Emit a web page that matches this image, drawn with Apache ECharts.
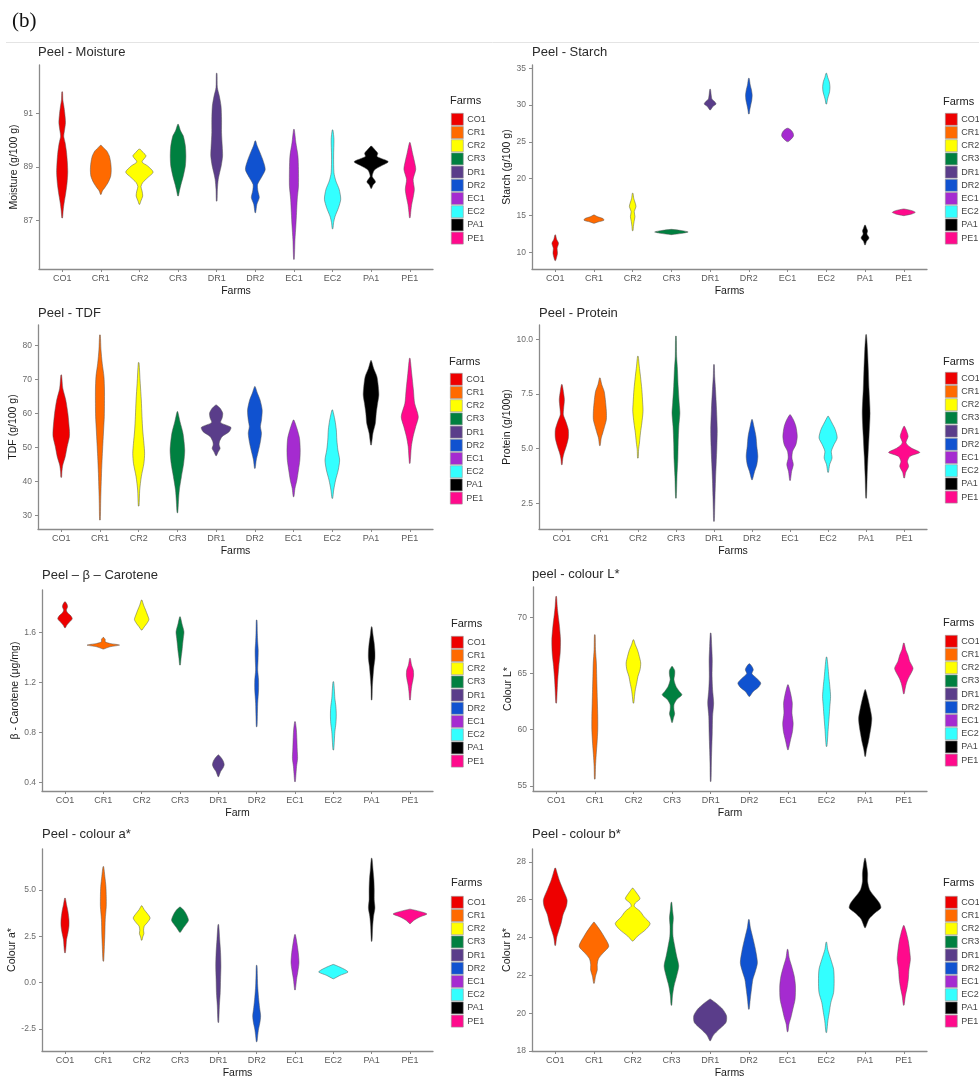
<!DOCTYPE html>
<html><head><meta charset="utf-8">
<script src="https://cdn.jsdelivr.net/npm/echarts@6/dist/echarts.min.js"></script>
<style>html,body{margin:0;padding:0;background:#fff}#c{width:979px;height:1080px}</style>
</head><body><div id="c"></div>
<script>
// ---------- data ----------
const farms = ['CO1','CR1','CR2','CR3','DR1','DR2','EC1','EC2','PA1','PE1'];
const farmColours = ['#EE0000','#FF6A00','#FFFF00','#008040','#5A3D8A','#1052D0','#A52BD0','#33FFFF','#000000','#FF0A8C'];

// each violin: list of [value, relative half-width], top to bottom
const moistureViolins = [
 [[91.8,.02],[91.5,.04],[91.3,.09],[91.0,.15],[90.65,.19],[90.35,.13],[90.15,.09],[89.9,.17],[89.55,.25],[89.15,.3],[88.8,.32],[88.4,.28],[88.05,.21],[87.65,.11],[87.4,.06],[87.1,.02]],
 [[89.81,.02],[89.72,.15],[89.6,.34],[89.41,.49],[89.16,.57],[88.91,.6],[88.66,.57],[88.42,.42],[88.23,.23],[88.11,.09],[87.98,.02]],
 [[89.66,.04],[89.53,.23],[89.41,.38],[89.19,.15],[89.04,.47],[88.81,.79],[88.6,.47],[88.42,.19],[88.27,.09],[88.11,.15],[87.92,.19],[87.73,.08],[87.61,.02]],
 [[90.59,.02],[90.34,.15],[90.16,.3],[89.78,.42],[89.41,.45],[89.04,.42],[88.66,.3],[88.35,.17],[88.11,.08],[87.92,.02]],
 [[92.49,.02],[91.96,.04],[91.65,.15],[91.27,.25],[90.78,.28],[90.28,.28],[89.78,.32],[89.41,.34],[89.04,.26],[88.79,.17],[88.54,.09],[88.17,.04],[87.73,.02]],
 [[89.97,.02],[89.78,.11],[89.6,.23],[89.29,.42],[88.91,.57],[88.6,.34],[88.35,.13],[88.11,.15],[87.86,.23],[87.61,.09],[87.3,.02]],
 [[90.4,.02],[89.91,.11],[89.41,.23],[88.91,.26],[88.29,.26],[87.8,.19],[87.3,.15],[86.8,.11],[86.3,.06],[85.56,.02]],
 [[90.38,.02],[90.03,.08],[89.41,.06],[88.79,.08],[88.48,.19],[88.17,.38],[87.8,.47],[87.48,.34],[87.17,.15],[86.93,.06],[86.7,.02]],
 [[89.78,.02],[89.63,.23],[89.51,.38],[89.39,.34],[89.2,.98],[89.04,.57],[88.89,.19],[88.66,.06],[88.54,.17],[88.44,.25],[88.33,.11],[88.2,.02]],
 [[89.91,.02],[89.53,.15],[89.22,.26],[88.91,.34],[88.54,.19],[88.17,.26],[87.86,.19],[87.61,.11],[87.36,.06],[87.11,.02]]
];
const starchViolins = [
 [[12.36,.02],[11.77,.08],[11.22,.19],[10.54,.11],[9.86,.13],[9.32,.08],[8.87,.02]],
 [[15.07,.02],[14.85,.19],[14.57,.53],[14.35,.57],[14.12,.23],[13.94,.02]],
 [[18.02,.02],[17.34,.06],[16.66,.15],[16.2,.19],[15.53,.09],[14.85,.13],[14.17,.08],[13.49,.04],[12.94,.02]],
 [[13.12,.02],[12.94,.62],[12.76,.96],[12.58,.62],[12.4,.02]],
 [[32.15,.02],[31.38,.06],[30.79,.11],[30.47,.26],[30.15,.34],[29.79,.15],[29.34,.02]],
 [[33.64,.02],[32.73,.08],[32.06,.15],[31.38,.19],[30.7,.17],[30.02,.11],[29.43,.06],[28.8,.02]],
 [[26.85,.04],[26.53,.23],[26.17,.32],[25.81,.34],[25.44,.23],[25.04,.04]],
 [[34.32,.02],[33.78,.08],[33.19,.17],[32.51,.21],[31.83,.19],[31.15,.11],[30.7,.06],[30.15,.02]],
 [[13.71,.02],[13.26,.09],[12.9,.15],[12.49,.11],[11.95,.23],[11.49,.09],[11.0,.02]],
 [[15.89,.02],[15.66,.47],[15.43,.66],[15.21,.47],[14.98,.02]]
];
const tdfViolins = [
 [[71.29,.02],[67.38,.09],[63.95,.26],[60.04,.38],[55.15,.47],[53.19,.47],[50.25,.34],[47.32,.23],[44.87,.09],[42.92,.04],[41.25,.02]],
 [[83.03,.02],[78.63,.06],[74.72,.13],[70.8,.23],[66.89,.26],[62.97,.26],[59.06,.25],[55.15,.21],[51.23,.17],[47.32,.13],[42.43,.09],[37.53,.06],[33.62,.04],[28.73,.02]],
 [[74.91,.02],[68.85,.09],[63.95,.15],[59.06,.19],[55.15,.23],[51.23,.3],[48.3,.34],[45.36,.3],[41.45,.15],[37.53,.06],[32.84,.02]],
 [[60.53,.02],[57.59,.15],[54.17,.32],[49.28,.42],[45.36,.36],[41.45,.23],[37.53,.11],[34.11,.06],[30.88,.02]],
 [[62.49,.02],[61.51,.23],[60.04,.38],[58.57,.34],[57.3,.26],[55.93,.85],[54.66,.75],[53.19,.34],[51.72,.19],[50.74,.17],[49.77,.23],[48.59,.11],[47.61,.02]],
 [[67.87,.02],[65.91,.15],[63.95,.3],[61.02,.42],[58.08,.38],[56.13,.32],[54.17,.38],[51.23,.3],[48.3,.17],[46.34,.08],[43.89,.02]],
 [[58.08,.02],[55.64,.19],[52.7,.34],[49.28,.38],[46.34,.36],[43.4,.28],[40.46,.19],[38.02,.08],[35.58,.02]],
 [[61.02,.02],[58.08,.15],[55.15,.23],[52.21,.26],[49.28,.32],[46.34,.42],[43.4,.34],[40.46,.19],[37.53,.08],[35.09,.02]],
 [[75.5,.02],[73.25,.15],[70.8,.34],[67.87,.42],[65.42,.45],[62.97,.38],[60.04,.3],[57.1,.25],[54.17,.11],[50.74,.02]],
 [[76.18,.02],[71.78,.11],[66.89,.21],[62.97,.28],[59.06,.49],[56.13,.34],[53.19,.19],[50.25,.09],[45.36,.02]]
];
const proteinViolins = [
 [[7.93,.02],[7.62,.09],[7.24,.15],[6.86,.11],[6.55,.09],[6.25,.23],[5.87,.38],[5.49,.38],[5.11,.26],[4.8,.13],[4.57,.06],[4.27,.02]],
 [[8.23,.02],[7.93,.11],[7.62,.25],[7.24,.32],[6.71,.38],[6.33,.38],[6.02,.28],[5.72,.17],[5.49,.08],[5.14,.02]],
 [[9.22,.02],[8.77,.08],[8.31,.15],[7.7,.23],[7.09,.28],[6.71,.3],[6.17,.23],[5.72,.15],[5.26,.09],[4.95,.04],[4.57,.02]],
 [[10.14,.02],[9.22,.04],[8.61,.09],[7.85,.13],[7.09,.19],[6.63,.23],[6.02,.17],[5.26,.13],[4.5,.11],[3.73,.06],[2.74,.02]],
 [[8.84,.02],[8.31,.04],[7.7,.09],[6.78,.15],[5.87,.19],[5.11,.17],[4.34,.13],[3.58,.09],[2.82,.06],[2.21,.04],[1.68,.02]],
 [[6.33,.02],[6.02,.11],[5.56,.23],[5.11,.28],[4.65,.34],[4.27,.28],[3.96,.15],[3.58,.02]],
 [[6.55,.02],[6.33,.19],[6.02,.34],[5.56,.42],[5.18,.34],[4.88,.15],[4.57,.11],[4.27,.19],[3.96,.09],[3.55,.02]],
 [[6.48,.02],[6.17,.23],[5.87,.42],[5.49,.53],[5.18,.34],[4.88,.19],[4.57,.23],[4.27,.09],[3.92,.02]],
 [[10.21,.02],[9.53,.08],[8.61,.13],[7.7,.17],[6.63,.23],[5.56,.17],[4.65,.11],[3.73,.06],[2.74,.02]],
 [[6.02,.02],[5.79,.15],[5.56,.23],[5.26,.11],[5.03,.42],[4.83,.91],[4.65,.34],[4.42,.19],[4.19,.26],[3.92,.09],[3.66,.02]]
];
const caroteneViolins = [
 [[1.845,.02],[1.827,.11],[1.805,.15],[1.779,.08],[1.757,.15],[1.733,.34],[1.709,.42],[1.683,.26],[1.659,.11],[1.637,.02]],
 [[1.56,.02],[1.544,.11],[1.525,.11],[1.512,.38],[1.499,.94],[1.485,.38],[1.467,.02]],
 [[1.859,.02],[1.819,.11],[1.779,.23],[1.739,.34],[1.704,.42],[1.672,.3],[1.645,.15],[1.619,.02]],
 [[1.725,.02],[1.672,.11],[1.605,.23],[1.552,.19],[1.499,.15],[1.445,.11],[1.392,.06],[1.339,.02]],
 [[0.619,.02],[0.592,.19],[0.565,.3],[0.539,.34],[0.512,.26],[0.485,.13],[0.445,.02]],
 [[1.699,.02],[1.592,.04],[1.525,.06],[1.459,.09],[1.379,.08],[1.299,.06],[1.219,.11],[1.139,.11],[1.032,.06],[0.925,.04],[0.845,.02]],
 [[0.885,.02],[0.819,.08],[0.739,.11],[0.659,.13],[0.592,.15],[0.525,.09],[0.472,.06],[0.405,.02]],
 [[1.205,.02],[1.139,.06],[1.072,.09],[1.005,.15],[0.939,.17],[0.872,.15],[0.805,.09],[0.739,.06],[0.659,.02]],
 [[1.645,.02],[1.579,.08],[1.512,.15],[1.445,.19],[1.392,.19],[1.325,.13],[1.245,.08],[1.165,.04],[1.059,.02]],
 [[1.392,.02],[1.339,.09],[1.299,.19],[1.259,.21],[1.219,.17],[1.179,.11],[1.125,.06],[1.059,.02]]
];
const colourLViolins = [
 [[71.86,.02],[70.97,.06],[70.23,.11],[69.19,.19],[68.0,.25],[66.82,.23],[65.63,.15],[64.45,.09],[63.56,.06],[62.37,.02]],
 [[68.45,.02],[67.12,.04],[65.93,.09],[64.74,.11],[63.56,.13],[62.37,.15],[61.19,.17],[60.0,.17],[58.81,.13],[57.78,.08],[56.74,.04],[55.61,.02]],
 [[68.0,.02],[67.56,.11],[67.12,.23],[66.52,.34],[65.93,.42],[65.34,.38],[64.74,.26],[64.15,.19],[63.56,.11],[62.96,.06],[62.37,.02]],
 [[65.63,.02],[65.28,.15],[64.89,.15],[64.45,.11],[63.85,.23],[63.41,.42],[63.11,.57],[62.67,.26],[62.22,.11],[61.78,.11],[61.42,.15],[61.04,.08],[60.65,.02]],
 [[68.6,.02],[67.41,.06],[66.23,.09],[64.74,.08],[63.56,.11],[62.37,.17],[61.19,.11],[59.7,.09],[58.22,.06],[57.04,.04],[55.4,.02]],
 [[65.87,.02],[65.63,.15],[65.34,.23],[64.98,.15],[64.59,.42],[64.15,.66],[63.79,.53],[63.41,.23],[62.96,.02]],
 [[64.0,.02],[63.26,.15],[62.37,.25],[61.48,.23],[60.59,.3],[59.85,.26],[59.11,.15],[58.22,.02]],
 [[66.46,.02],[65.63,.08],[64.74,.13],[63.85,.19],[62.96,.23],[62.08,.19],[61.19,.15],[60.0,.09],[59.26,.06],[58.52,.02]],
 [[63.56,.02],[62.82,.15],[61.93,.28],[61.04,.38],[60.3,.34],[59.56,.26],[58.81,.17],[58.22,.08],[57.63,.02]],
 [[67.71,.02],[67.12,.11],[66.67,.23],[66.08,.34],[65.48,.53],[65.04,.42],[64.59,.26],[64.15,.15],[63.7,.08],[63.2,.02]]
];
const colourAViolins = [
 [[4.55,.02],[4.2,.09],[3.84,.17],[3.39,.23],[3.04,.23],[2.68,.17],[2.32,.09],[1.96,.06],[1.61,.02]],
 [[6.25,.02],[5.71,.09],[5.18,.15],[4.64,.17],[4.11,.17],[3.39,.11],[2.68,.09],[1.96,.06],[1.16,.02]],
 [[4.14,.02],[3.93,.15],[3.71,.34],[3.48,.49],[3.25,.34],[3.04,.15],[2.82,.11],[2.64,.13],[2.46,.06],[2.29,.02]],
 [[4.07,.02],[3.89,.23],[3.66,.38],[3.36,.49],[3.13,.34],[2.95,.19],[2.71,.02]],
 [[3.13,.02],[2.32,.08],[1.61,.13],[0.89,.15],[0.18,.13],[-0.54,.11],[-1.25,.06],[-2.14,.02]],
 [[0.93,.02],[0.36,.04],[-0.18,.06],[-0.8,.11],[-1.34,.17],[-1.79,.23],[-2.14,.19],[-2.5,.11],[-2.86,.06],[-3.18,.02]],
 [[2.59,.02],[2.14,.11],[1.61,.19],[1.07,.23],[0.63,.17],[0.18,.09],[-0.39,.02]],
 [[0.98,.02],[0.84,.38],[0.68,.72],[0.57,.85],[0.39,.38],[0.21,.02]],
 [[6.7,.02],[6.07,.08],[5.54,.13],[5.0,.15],[4.46,.15],[4.02,.19],[3.57,.11],[3.04,.06],[2.23,.02]],
 [[3.96,.02],[3.84,.57],[3.7,.98],[3.54,.57],[3.36,.23],[3.18,.02]]
];
const colourBViolins = [
 [[27.67,.02],[27.4,.11],[26.96,.26],[26.53,.45],[26.0,.68],[25.65,.64],[25.21,.45],[24.77,.34],[24.33,.19],[23.98,.08],[23.58,.02]],
 [[24.81,.02],[24.51,.26],[24.07,.57],[23.54,.85],[23.19,.53],[22.88,.26],[22.58,.19],[22.28,.19],[21.96,.09],[21.58,.02]],
 [[26.61,.02],[26.35,.23],[26.05,.42],[25.82,.15],[25.65,.09],[25.39,.42],[25.09,.66],[24.74,1.0],[24.42,.75],[24.07,.28],[23.81,.02]],
 [[25.86,.02],[25.47,.06],[25.04,.11],[24.6,.08],[24.07,.09],[23.54,.19],[23.02,.3],[22.49,.42],[21.96,.3],[21.44,.15],[20.91,.06],[20.42,.02]],
 [[20.74,.02],[20.53,.34],[20.21,.72],[19.86,.94],[19.51,.91],[19.16,.53],[18.84,.19],[18.54,.02]],
 [[24.95,.02],[24.51,.09],[23.98,.23],[23.37,.38],[22.67,.49],[22.23,.38],[21.79,.23],[21.26,.15],[20.74,.08],[20.21,.02]],
 [[23.37,.02],[22.93,.09],[22.49,.23],[21.96,.38],[21.44,.45],[20.74,.43],[20.21,.3],[19.77,.19],[19.42,.08],[19.02,.02]],
 [[23.75,.02],[23.37,.08],[22.84,.26],[22.32,.42],[21.7,.45],[21.09,.42],[20.56,.26],[20.04,.17],[19.6,.09],[18.98,.02]],
 [[28.19,.02],[27.84,.09],[27.4,.15],[26.96,.15],[26.53,.26],[26.18,.53],[25.82,.83],[25.56,.91],[25.3,.57],[24.98,.23],[24.51,.02]],
 [[24.63,.02],[24.25,.15],[23.81,.26],[23.28,.34],[22.84,.38],[22.32,.3],[21.79,.26],[21.35,.19],[20.91,.09],[20.42,.02]]
];

const moistureTicks = [87, 89, 91];
const starchTicks = [10, 15, 20, 25, 30, 35];
const tdfTicks = [30, 40, 50, 60, 70, 80];
const proteinTicks = [2.5, 5.0, 7.5, 10.0];
const caroteneTicks = [0.4, 0.8, 1.2, 1.6];
const colourLTicks = [55, 60, 65, 70];
const colourATicks = [-2.5, 0.0, 2.5, 5.0];
const colourBTicks = [18, 20, 22, 24, 26, 28];

const panelTitles = ['Peel - Moisture','Peel - Starch','Peel - TDF','Peel - Protein','Peel \u2013 \u03b2 \u2013 Carotene','peel - colour L*','Peel - colour a*','Peel - colour b*'];
const yNames = ['Moisture (g/100 g)','Starch (g/100 g)','TDF (g/100 g)','Protein (g/100g)','\u03b2 - Carotene (\u03bcg/mg)','Colour L*','Colour a*','Colour b*'];
const xNames = ['Farms','Farms','Farms','Farms','Farm','Farm','Farms','Farms'];

// ---------- layout ----------
const panels = [
 {v: moistureViolins, t: moistureTicks, dec: 0, min: 85.2, max: 92.8, g:[39,65,394,204], tt:[38,46], lg:[451,113], ft:[450,95], ng:19},
 {v: starchViolins,   t: starchTicks,   dec: 0, min: 7.73, max: 35.45, g:[532,65,395,204], tt:[532,46], lg:[945,113], ft:[943,96], ng:17},
 {v: tdfViolins,      t: tdfTicks,      dec: 0, min: 26.1, max: 85.95, g:[38,325,395,204], tt:[38,307], lg:[450,373], ft:[449,356], ng:19},
 {v: proteinViolins,  t: proteinTicks,  dec: 1, min: 1.33, max: 10.65, g:[539,325,388,204], tt:[539,307], lg:[945,372], ft:[943,356], ng:23},
 {v: caroteneViolins, t: caroteneTicks, dec: 1, min: 0.33, max: 1.94, g:[42,590,391,201], tt:[42,569], lg:[451,636], ft:[451,618], ng:21},
 {v: colourLViolins,  t: colourLTicks,  dec: 0, min: 54.55, max: 72.7, g:[533,587,394,204], tt:[532,568], lg:[945,635], ft:[943,617], ng:18},
 {v: colourAViolins,  t: colourATicks,  dec: 1, min: -3.68, max: 7.2, g:[42,849,391,203], tt:[42,828], lg:[451,896], ft:[451,877], ng:22},
 {v: colourBViolins,  t: colourBTicks,  dec: 0, min: 18, max: 28.68, g:[532,849,395,203], tt:[532,828], lg:[945,896], ft:[943,877], ng:18}
];

const HALF = 0.45;
const axisGrey = '#8a8a8a';
const grids = [], xAxes = [], yAxes = [], series = [], titles = [], legends = [];
const catIdx = farms.map((f, i) => i);

panels.forEach((p, pi) => {
  grids.push({left: p.g[0], top: p.g[1], width: p.g[2], height: p.g[3], containLabel: false});
  xAxes.push({
    type: 'value', gridIndex: pi, min: -0.6, max: 9.6,
    name: xNames[pi], nameLocation: 'middle', nameGap: 17,
    nameTextStyle: {fontSize: 10.5, color: '#1a1a1a', fontFamily: 'Liberation Sans'},
    axisLine: {show: true, onZero: false, lineStyle: {color: axisGrey, width: 1.3}},
    axisTick: {show: true, length: 3, lineStyle: {color: axisGrey}, customValues: catIdx},
    axisLabel: {fontSize: 9, color: '#5a5a5a', margin: 5, fontFamily: 'Liberation Sans', customValues: catIdx,
      formatter: v => farms[Math.round(v)]},
    splitLine: {show: false}
  });
  yAxes.push({
    type: 'value', gridIndex: pi, min: p.min, max: p.max,
    name: yNames[pi], nameLocation: 'middle', nameGap: p.ng, nameRotate: 90,
    nameTextStyle: {fontSize: 10.5, color: '#1a1a1a', fontFamily: 'Liberation Sans'},
    axisLine: {show: true, onZero: false, lineStyle: {color: axisGrey, width: 1.3}},
    axisTick: {show: true, length: 3, lineStyle: {color: axisGrey}, customValues: p.t},
    axisLabel: {fontSize: 8.5, color: '#6a6a6a', margin: 6, fontFamily: 'Liberation Sans', customValues: p.t,
      formatter: v => v.toFixed(p.dec)},
    splitLine: {show: false}
  });
  titles.push({text: panelTitles[pi], left: p.tt[0], top: p.tt[1], padding: 0,
    textStyle: {fontSize: 13, fontWeight: 'normal', color: '#2a2a2a', fontFamily: 'Liberation Sans'}});
  titles.push({text: 'Farms', left: p.ft[0], top: p.ft[1], padding: 0,
    textStyle: {fontSize: 11, fontWeight: 'normal', color: '#222', fontFamily: 'Liberation Sans'}});
  legends.push({
    orient: 'vertical', left: p.lg[0], top: p.lg[1], padding: 0,
    itemWidth: 12, itemHeight: 12, itemGap: 0.6, icon: 'rect',
    itemStyle: {borderColor: '#999', borderWidth: 0.6},
    textStyle: {fontSize: 9, color: '#444', fontFamily: 'Liberation Sans', padding: [0,0,0,-1]},
    selectedMode: false, data: farms
  });
  farms.forEach((farm, fi) => {
    const profile = p.v[fi];
    const col = farmColours[fi];
    series.push({
      type: 'custom', name: farm, xAxisIndex: pi, yAxisIndex: pi,
      itemStyle: {color: col},
      data: [[fi, profile[0][0]]],
      silent: true,
      renderItem: function (params, api) {
        const f = api.value(0);
        const pts = [];
        for (let i = 0; i < profile.length; i++) pts.push(api.coord([f + profile[i][1] * HALF, profile[i][0]]));
        for (let i = profile.length - 1; i >= 0; i--) pts.push(api.coord([f - profile[i][1] * HALF, profile[i][0]]));
        return {type: 'polygon', shape: {points: pts, smooth: 0.25},
          style: {fill: col, stroke: '#555', lineWidth: 0.5}};
      }
    });
  });
});

titles.push({text: '(b)', left: 12, top: 11, padding: 0,
  textStyle: {fontSize: 21, fontWeight: 'normal', color: '#111', fontFamily: 'Liberation Serif'}});

const chart = echarts.init(document.getElementById('c'), null, {renderer: 'canvas'});
chart.setOption({
  animation: false,
  backgroundColor: '#fff',
  title: titles,
  legend: legends,
  grid: grids,
  xAxis: xAxes,
  yAxis: yAxes,
  series: series,
  graphic: [{type: 'line', shape: {x1: 6, y1: 42.5, x2: 979, y2: 42.5}, style: {stroke: '#e4e4e4', lineWidth: 1}}]
});
</script></body></html>
